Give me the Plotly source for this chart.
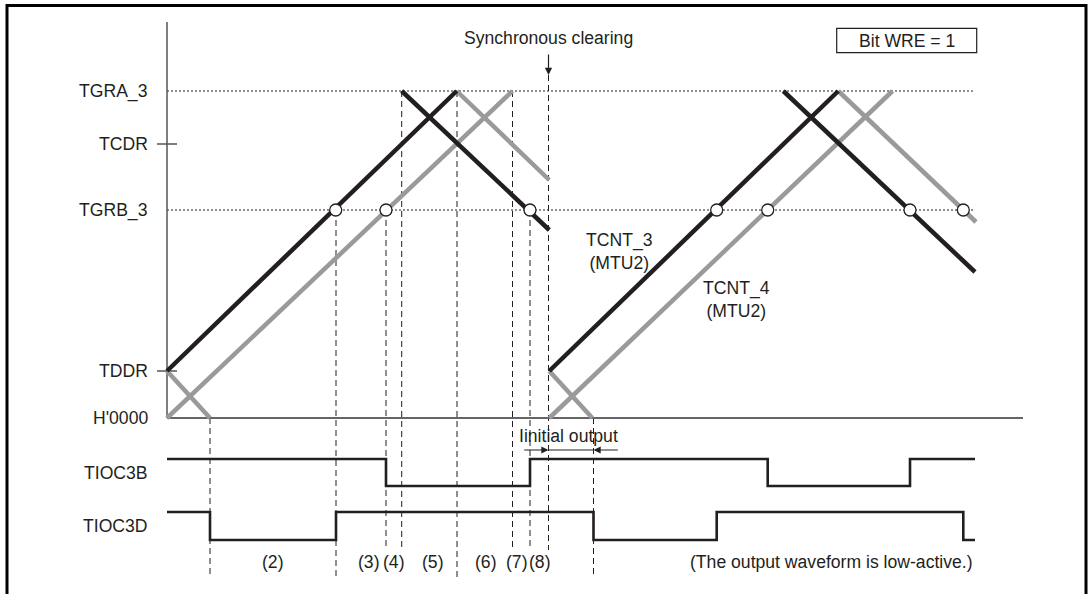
import plotly.graph_objects as go

# ---------------- data (time units / counter units) ----------------
level_names = ["TGRA_3", "TCDR", "TGRB_3", "TDDR", "H'0000"]
level_values = [327, 274, 208, 47, 0]

# TCNT_3 (black) segments
tcnt3_t0 = [0, 234.7, 382.3, 616.3]
tcnt3_t1 = [289.7, 382.3, 671.3, 808]
tcnt3_c0 = [47, 327, 47, 327]
tcnt3_c1 = [327, 188, 327, 146]

# TCNT_4 (gray) segments
tcnt4_t0 = [0, 0, 289.7, 382.3, 382.3, 671.3]
tcnt4_t1 = [43, 345.5, 382.3, 425.3, 725.5, 809]
tcnt4_c0 = [47, 0, 327, 47, 0, 327]
tcnt4_c1 = [0, 327, 238, 0, 327, 196]

# compare match points on TGRB_3
match_t = [168.7, 219, 363, 549.7, 600.7, 743, 796.3]

# output waveforms (1 = high, 0 = low)
tioc3b_t = [0, 219, 363, 600.7, 743, 808]
tioc3b_lv = [1, 0, 1, 0, 1, 1]
tioc3d_t = [0, 43, 169, 426.5, 549.7, 796.3, 808]
tioc3d_lv = [1, 0, 1, 0, 1, 0, 0]

# event markers (dashed verticals)
event_t = [43, 169, 219, 234.7, 290, 345.5, 363, 381.5, 426.5]
event_top = [0, 208, 208, 327, 327, 327, 208, 343, 0]
event_long = [True, True, False, False, True, False, False, False, True]

section_labels = ["(2)", "(3)", "(4)", "(5)", "(6)", "(7)", "(8)"]
section_t = [105.6, 202, 227, 265.6, 319, 350, 372.5]

# ---------------- layout constants ----------------
FONT = "Liberation Sans, Arial, Helvetica, sans-serif"
TXT = "#231f20"
FS = 17.6
BLACK = "#231f20"
GRAY = "#9a9a9a"
END_T = 808
B_HI, B_LO = -41, -68
D_HI, D_LO = -94, -122
LABEL_C = -144
LONG_BOT, SHORT_BOT = -159, -132

fig = go.Figure()


def segs(t0, t1, c0, c1):
    xs, ys = [], []
    for a, b, p, q in zip(t0, t1, c0, c1):
        xs += [a, b, None]
        ys += [p, q, None]
    return xs, ys


# dotted reference lines
for nm, v in zip(level_names, level_values):
    if nm in ("TGRA_3", "TGRB_3"):
        fig.add_trace(go.Scatter(x=[0, END_T], y=[v, v], mode="lines",
                                 line=dict(color=BLACK, width=1, dash="2px,2px"),
                                 hoverinfo="skip", showlegend=False))

# dashed event lines
for t, top, lg in zip(event_t, event_top, event_long):
    fig.add_trace(go.Scatter(x=[t, t], y=[top, LONG_BOT if lg else SHORT_BOT], mode="lines",
                             line=dict(color=BLACK, width=1, dash="6px,4px"),
                             hoverinfo="skip", showlegend=False))

# axes
fig.add_trace(go.Scatter(x=[0, 0], y=[0, 396], mode="lines",
                         line=dict(color="#555555", width=1.5), hoverinfo="skip", showlegend=False))
fig.add_trace(go.Scatter(x=[0, 856], y=[0, 0], mode="lines",
                         line=dict(color="#666666", width=2), hoverinfo="skip", showlegend=False))
for nm, v in zip(level_names, level_values):
    if nm in ("TCDR", "TDDR"):
        fig.add_trace(go.Scatter(x=[-10, 10], y=[v, v], mode="lines",
                                 line=dict(color="#555555", width=1.5), hoverinfo="skip", showlegend=False))

# counters
x4, y4 = segs(tcnt4_t0, tcnt4_t1, tcnt4_c0, tcnt4_c1)
fig.add_trace(go.Scatter(x=x4, y=y4, mode="lines", line=dict(color=GRAY, width=4.5),
                         hoverinfo="skip", showlegend=False))
x3, y3 = segs(tcnt3_t0, tcnt3_t1, tcnt3_c0, tcnt3_c1)
fig.add_trace(go.Scatter(x=x3, y=y3, mode="lines", line=dict(color=BLACK, width=4.5),
                         hoverinfo="skip", showlegend=False))

# compare match circles
tgrb = level_values[level_names.index("TGRB_3")]
fig.add_trace(go.Scatter(x=match_t, y=[tgrb] * len(match_t), mode="markers",
                         marker=dict(size=12, color="white", line=dict(color=BLACK, width=1.3)),
                         hoverinfo="skip", showlegend=False))

# waveforms
fig.add_trace(go.Scatter(x=tioc3b_t, y=[B_LO + (B_HI - B_LO) * v for v in tioc3b_lv],
                         mode="lines", line=dict(color=BLACK, width=2.6, shape="hv"),
                         hoverinfo="skip", showlegend=False))
fig.add_trace(go.Scatter(x=tioc3d_t, y=[D_LO + (D_HI - D_LO) * v for v in tioc3d_lv],
                         mode="lines", line=dict(color=BLACK, width=2.6, shape="hv"),
                         hoverinfo="skip", showlegend=False))

ann = []


def text(x, y, s, xa="center", ya="middle"):
    ann.append(dict(x=x, y=y, text=s, showarrow=False, xanchor=xa, yanchor=ya,
                    font=dict(family=FONT, size=FS, color=TXT)))


for nm, v in zip(level_names, level_values):
    text(-17, v, nm, xa="right")
text(-17, (B_HI + B_LO) / 2, "TIOC3B", xa="right")
text(-17, (D_HI + D_LO) / 2, "TIOC3D", xa="right")

for s, t in zip(section_labels, section_t):
    text(t, LABEL_C, s)
text(END_T, LABEL_C, "(The output waveform is low-active.)", xa="right")

text(381.3, 380, "Synchronous clearing")
text(452.3, 167, "TCNT_3<br>(MTU2)")
text(569.5, 119, "TCNT_4<br>(MTU2)")
text(401, -18, "Iinitial output")
text(739.7, 377.5, "Bit WRE = 1")

# arrows
ann.append(dict(x=381.5, y=343, ax=381.5, ay=365, xref="x", yref="y", axref="x", ayref="y",
                text="", showarrow=True, arrowhead=2, arrowsize=1.2, arrowwidth=1.2, arrowcolor=BLACK))
ann.append(dict(x=381.5, y=-32, ax=355.7, ay=-32, xref="x", yref="y", axref="x", ayref="y",
                text="", showarrow=True, arrowhead=2, arrowsize=1.2, arrowwidth=1.2, arrowcolor=BLACK))
ann.append(dict(x=426.5, y=-32, ax=452.3, ay=-32, xref="x", yref="y", axref="x", ayref="y",
                text="", showarrow=True, arrowhead=2, arrowsize=1.2, arrowwidth=1.2, arrowcolor=BLACK))

shapes = [
    dict(type="line", x0=381.5, x1=426.5, y0=-32, y1=-32, line=dict(color=BLACK, width=1.2)),
    dict(type="rect", x0=669.7, x1=809.7, y0=365.3, y1=389.7, line=dict(color=BLACK, width=1.2)),
    dict(type="rect", xref="paper", yref="paper", x0=7 / 1092, x1=1086 / 1092,
         y0=-0.02, y1=1 - 5.5 / 594, line=dict(color="black", width=3)),
]

fig.update_layout(
    width=1092, height=594, margin=dict(l=0, r=0, t=0, b=0),
    paper_bgcolor="white", plot_bgcolor="white",
    xaxis=dict(range=[-167, 925], visible=False, fixedrange=True),
    yaxis=dict(range=[-176, 418], visible=False, fixedrange=True),
    annotations=ann, shapes=shapes, showlegend=False,
)

fig.write_html("out.html", config={"displayModeBar": False},
               post_script="document.body.style.margin='0';document.body.style.overflow='hidden';")
